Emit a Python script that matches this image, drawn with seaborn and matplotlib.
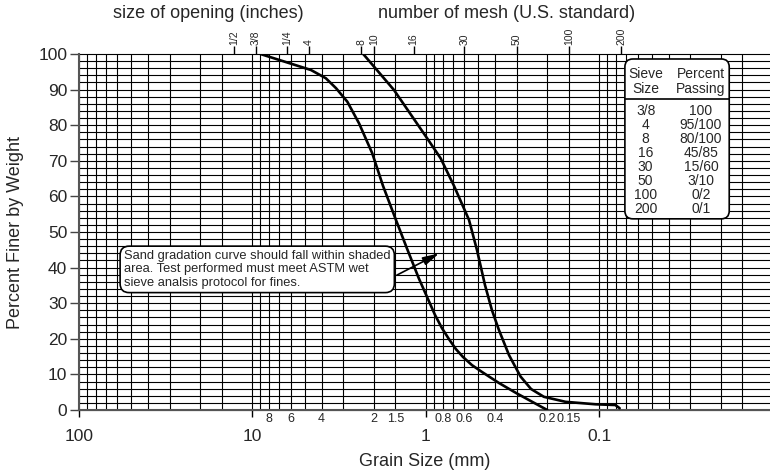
import pandas as pd
import seaborn as sns
import matplotlib.pyplot as plt
from matplotlib.patches import FancyBboxPatch
from matplotlib.ticker import NullLocator

# Gradation limits (grain size in mm, percent passing)
coarse_mm = [9.0, 4.6, 3.78, 3.30, 2.84, 2.43, 2.04, 1.77, 1.49, 1.29, 1.1, 0.887, 0.809,
             0.737, 0.672, 0.612, 0.543, 0.476, 0.380, 0.303, 0.255, 0.2]
coarse_pct = [100, 95.5, 93.2, 90.4, 86.6, 80.5, 72.1, 63, 53.4, 45.5, 37, 26.7, 23.0,
              19.9, 17.1, 14.9, 12.6, 10.7, 7.6, 4.8, 2.8, 0]
fine_mm = [2.3, 1.53, 1.0, 0.823, 0.69, 0.565, 0.508, 0.457, 0.417, 0.380, 0.332, 0.285,
           0.248, 0.209, 0.157, 0.105, 0.081, 0.0765]
fine_pct = [100, 89.9, 76.8, 70.7, 63, 53.4, 44.9, 35.1, 28.1, 22.5, 15.4, 9.4,
            5.9, 3.7, 2.3, 1.6, 1.4, 0.5]

# Sieve openings on the top axis
sieve_mm = [12.7, 9.525, 6.35, 4.75, 2.36, 2.0, 1.18, 0.6, 0.3, 0.15, 0.075]
sieve_labels = ["1/2", "3/8", "1/4", "4", "8", "10", "16", "30", "50", "100", "200"]

# Bottom axis labels
major_mm = [100, 10, 1, 0.1]
minor_mm = [8, 6, 4, 2, 1.5, 0.8, 0.6, 0.4, 0.2, 0.15]

# Spec table
table_sieve = ["3/8", "4", "8", "16", "30", "50", "100", "200"]
table_passing = ["100", "95/100", "80/100", "45/85", "15/60", "3/10", "0/2", "0/1"]

note = ("Sand gradation curve should fall within shaded\n"
        "area. Test performed must meet ASTM wet\n"
        "sieve analsis protocol for fines.")

sns.set_theme(style="white")
plt.rcParams["font.family"] = ["Liberation Sans", "DejaVu Sans"]

fig = plt.figure(figsize=(7.7, 4.73), dpi=100)
ax = fig.add_axes([79 / 770, 1 - 410 / 473, 691 / 770, 356 / 473])
ax.set_xscale("log")
ax.set_xlim(100, 0.0104)
ax.set_ylim(0, 100)

# grain size paper grid
grid_steps = [1, 0.9, 0.8, 0.7, 0.6, 0.5, 0.4, 0.3, 0.2, 0.15]
grid_x = [d * s for d in [100, 10, 1, 0.1] for s in grid_steps]
ax.vlines(grid_x, 0, 100, colors="black", lw=0.8, zorder=1, clip_on=False)
ax.hlines(list(range(0, 101, 2)), 100, 0.0104, colors="black", lw=0.8, zorder=1, clip_on=False)

curves = pd.concat([
    pd.DataFrame({"mm": coarse_mm, "pct": coarse_pct, "limit": "coarse"}),
    pd.DataFrame({"mm": fine_mm, "pct": fine_pct, "limit": "fine"}),
])
sns.lineplot(data=curves, x="mm", y="pct", hue="limit", palette=["black", "black"],
             sort=False, estimator=None, legend=False, lw=1.9, ax=ax, zorder=3)

# axes styling
for side in ["top", "right"]:
    ax.spines[side].set_visible(False)
for side in ["left", "bottom"]:
    ax.spines[side].set_color("#555555")
    ax.spines[side].set_linewidth(1.5)

ax.set_yticks(range(0, 101, 10))
ax.tick_params(axis="y", which="major", left=True, length=6.5, width=1, pad=2,
               labelsize=12.5, color="#444444")
ax.set_xticks(major_mm)
ax.set_xticklabels([f"{v:g}" for v in major_mm])
ax.set_xticks(minor_mm, minor=True)
ax.set_xticklabels([f"{v:g}" for v in minor_mm], minor=True)
ax.tick_params(axis="x", which="major", bottom=True, length=5, width=1, pad=9,
               labelsize=12.5, color="black")
ax.tick_params(axis="x", which="minor", bottom=True, length=0, pad=2.5, labelsize=9)

ax.set_xlabel("Grain Size (mm)", fontsize=13)
ax.set_ylabel("Percent Finer by Weight", fontsize=13)
ax.xaxis.set_label_coords(0.5, -0.121)
ax.yaxis.set_label_coords(-0.08, 0.5)

# top axis with sieve numbers
ax2 = ax.twiny()
ax2.set_xscale("log")
ax2.set_xlim(ax.get_xlim())
ax2.set_xticks(sieve_mm)
ax2.set_xticklabels(sieve_labels)
ax2.xaxis.set_minor_locator(NullLocator())
ax2.tick_params(axis="x", top=True, length=6, width=1, pad=0.5, labelsize=7.5,
                labelrotation=90, color="black")
for s in ax2.spines.values():
    s.set_visible(False)

fig.text(208 / 770, 1 - 13 / 473, "size of opening (inches)", ha="center", va="center", fontsize=13)
fig.text(507 / 770, 1 - 13 / 473, "number of mesh (U.S. standard)", ha="center", va="center", fontsize=13)

# spec table box
box = FancyBboxPatch((0.790, 0.537), 0.151, 0.449,
                     boxstyle="round,pad=0,rounding_size=0.0116", mutation_aspect=691 / 356,
                     transform=ax.transAxes, fc="white", ec="black", lw=1.2, zorder=5, clip_on=False)
ax.add_patch(box)
ax.plot([0.790, 0.941], [0.873, 0.873], transform=ax.transAxes, color="black", lw=1.2, zorder=6)
ax.text(0.820, 0.924, "Sieve\nSize", transform=ax.transAxes, ha="center", va="center",
        fontsize=10, linespacing=1.1, zorder=6)
ax.text(0.900, 0.924, "Percent\nPassing", transform=ax.transAxes, ha="center", va="center",
        fontsize=10, linespacing=1.1, zorder=6)
for i, (s, p) in enumerate(zip(table_sieve, table_passing)):
    yy = 0.840 - i * 0.0395
    ax.text(0.820, yy, s, transform=ax.transAxes, ha="center", va="center", fontsize=10, zorder=6)
    ax.text(0.900, yy, p, transform=ax.transAxes, ha="center", va="center", fontsize=10, zorder=6)

# note with arrow
ax.text(0.0651, 0.395, note, transform=ax.transAxes, ha="left", va="center", fontsize=9.3,
        linespacing=1.15, zorder=5,
        bbox=dict(boxstyle="round,pad=0.3,rounding_size=0.7", fc="white", ec="black", lw=1.2))
ax.annotate("", xy=(0.84, 44), xytext=(1.47, 37.9), zorder=6,
            arrowprops=dict(arrowstyle="-|>,head_length=0.7,head_width=0.18", color="black",
                            lw=1.2, shrinkA=0, shrinkB=0, mutation_scale=14))

fig.savefig("out.png", dpi=100)
